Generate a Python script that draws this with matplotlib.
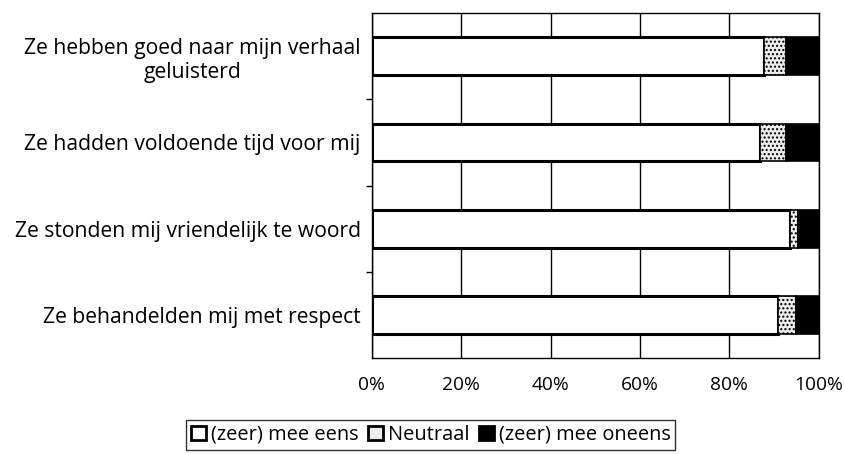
import matplotlib.pyplot as plt
import numpy as np

# Data
categories = [
    "Ze hebben goed naar mijn verhaal\ngeluisterd",
    "Ze hadden voldoende tijd voor mij",
    "Ze stonden mij vriendelijk te woord",
    "Ze behandelden mij met respect",
]
eens = [87.8, 86.8, 93.5, 90.9]
neutraal = [4.8, 5.8, 1.9, 4.1]
oneens = [7.4, 7.4, 4.6, 5.0]
series_names = ["(zeer) mee eens", "Neutraal", "(zeer) mee oneens"]
x_ticks = [0, 20, 40, 60, 80, 100]

plt.rcParams['font.family'] = ['Open Sans', 'DejaVu Sans']

fig = plt.figure(figsize=(8.45, 4.54), dpi=100)
ax = fig.add_axes([0.440, 0.2115, 0.529, 0.7595])

y = np.arange(len(categories))
h = 0.44

# gridlines behind the bars
for t in x_ticks:
    ax.axvline(t, color='black', lw=1.0, zorder=0)

ax.barh(y, eens, height=h, color='white', edgecolor='black', lw=2.2,
        label=series_names[0], zorder=2)
ax.barh(y, neutraal, left=eens, height=h, color='#ececec', edgecolor='black',
        lw=1.2, hatch='....', label=series_names[1], zorder=2)
left2 = np.array(eens) + np.array(neutraal)
ax.barh(y, oneens, left=left2, height=h, color='black', edgecolor='black',
        lw=1.2, label=series_names[2], zorder=2)

ax.set_xlim(0, 100)
ax.set_ylim(3.5, -0.5)
ax.set_xticks(x_ticks)
ax.set_xticklabels([f"{t}%" for t in x_ticks], fontsize=13.8)
ax.tick_params(axis='x', length=0, pad=13)
ax.set_yticks(y)
ax.set_yticklabels(categories, fontsize=15.2, ha='right', multialignment='center')
ax.tick_params(axis='y', length=0, pad=8)
ax.set_yticks([0.5, 1.5, 2.5], minor=True)
ax.tick_params(axis='y', which='minor', length=4, width=1, direction='out')

for s in ax.spines.values():
    s.set_color('black')
    s.set_linewidth(1.0)

leg = fig.legend(loc='upper center', bbox_to_anchor=(0.51, 0.075), ncol=3,
                 fontsize=14.4, frameon=True, fancybox=False, edgecolor='black',
                 handlelength=0.75, handleheight=0.75, handletextpad=0.25,
                 columnspacing=0.45, borderpad=0.25, borderaxespad=0)
leg.get_frame().set_linewidth(1.0)
for p in leg.get_patches():
    p.set_hatch(None)
    p.set_linewidth(2.0)

fig.savefig('out.png', dpi=100)
